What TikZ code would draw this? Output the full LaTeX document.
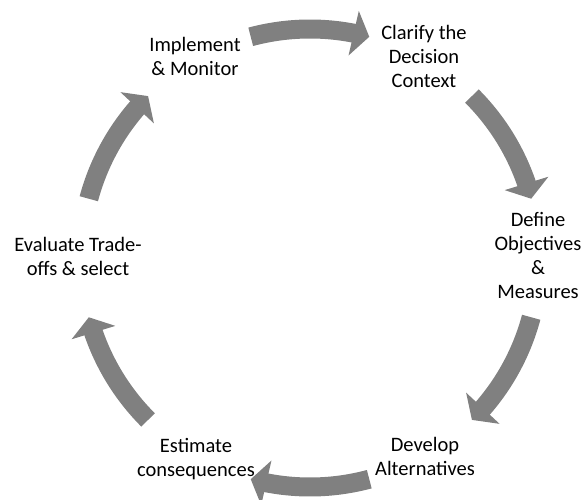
\documentclass[tikz,border=0pt]{standalone}
\usepackage{fontspec}
\setmainfont{Carlito}
\usetikzlibrary{arrows.meta,bending}
\definecolor{arrowgray}{RGB}{128,128,128}
\tikzset{
    stage/.style={align=center, inner sep=0pt, font=\fontsize{20.5}{24}\selectfont},
    turn/.style={draw=arrowgray, line width=19pt, -{Triangle[width=45pt,length=16pt]}}
}
\begin{document}
\begin{tikzpicture}[x=1pt,y=1pt]
    \useasboundingbox (0,0) rectangle (587,499);
    %% centre of the cycle
    \coordinate (c) at (310,241);
    %% stages
    \node[stage] (implement) at (195,443) {Implement\\\& Monitor};
    \node[stage] (clarify) at (424,442.5) {Clarify the\\Decision\\Context};
    \node[stage] (define) at (538,244) {Define\\Objectives\\\&\\Measures};
    \node[stage] (develop) at (425,42.5) {Develop\\Alternatives};
    \node[stage] (estimate) at (196,40) {Estimate\\consequences};
    \node[stage] (evaluate) at (78,242.5) {Evaluate Trade-\\offs \& select};
    %% arrows
    \draw[turn] ([shift={(105:229)}]c) arc[start angle=105, end angle=75, radius=229];
    \draw[turn] ([shift={(45:229)}]c) arc[start angle=45, end angle=15, radius=229];
    \draw[turn] ([shift={(-15:229)}]c) arc[start angle=-15, end angle=-45, radius=229];
    \draw[turn] ([shift={(-75:229)}]c) arc[start angle=-75, end angle=-105, radius=229];
    \draw[turn] ([shift={(-135:229)}]c) arc[start angle=-135, end angle=-165, radius=229];
    \draw[turn] ([shift={(165:229)}]c) arc[start angle=165, end angle=135, radius=229];
\end{tikzpicture}
\end{document}
